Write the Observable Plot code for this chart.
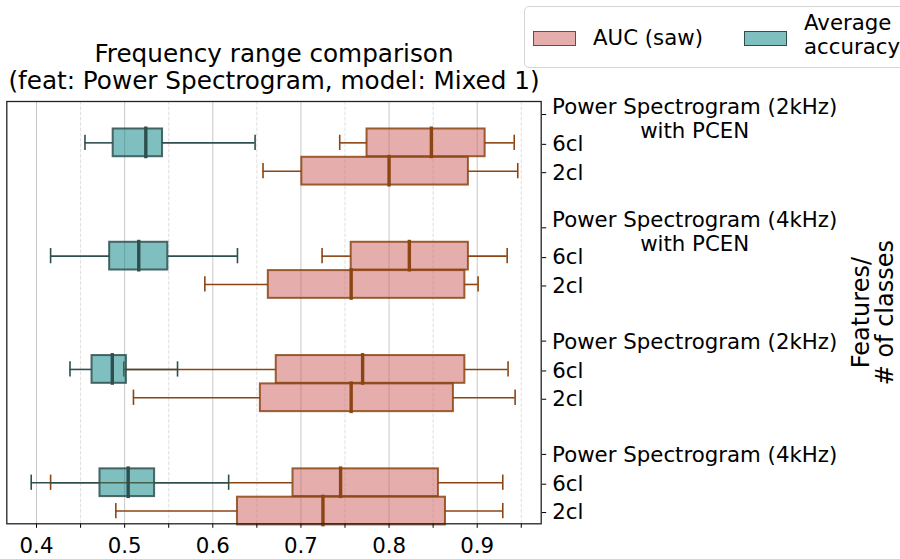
<!DOCTYPE html>
<html><head><meta charset="utf-8">
<script src="https://cdn.jsdelivr.net/npm/d3@7"></script>
<script src="https://cdn.jsdelivr.net/npm/@observablehq/plot@0.6"></script>
<style>
body{margin:0;background:#fff;overflow:hidden;font-family:"DejaVu Sans",sans-serif;}
#wrap{position:relative;width:900px;height:559px;overflow:hidden;}
#legend{position:absolute;left:524px;top:6px;width:400px;height:62px;border:1.3px solid #d6d6d6;border-radius:5px;background:#fff;box-sizing:border-box;font-size:21.3px;color:#000;}
.patch{position:absolute;width:43px;height:15px;box-sizing:border-box;border:1.6px solid;}
.lab{position:absolute;white-space:pre;}
</style></head><body>
<div id="wrap"><div id="chart"></div><div id="legend"></div></div>
<script>
// ---- data ----
const titleLines = ["Frequency range comparison", "(feat: Power Spectrogram, model: Mixed 1)"];
const groups = [
  "Power Spectrogram (2kHz)\nwith PCEN",
  "Power Spectrogram (4kHz)\nwith PCEN",
  "Power Spectrogram (2kHz)",
  "Power Spectrogram (4kHz)"
];
const classes = ["6cl", "2cl"];
const seriesNames = ["AUC (saw)", "Average\naccuracy"];
const yAxisLabel = "Features/\n# of classes";
// [lower whisker, Q1, median, Q3, upper whisker]
const auc6 = [
  [0.744, 0.775, 0.848, 0.909, 0.942],
  [0.724, 0.757, 0.823, 0.890, 0.934],
  [0.499, 0.672, 0.770, 0.886, 0.935],
  [0.416, 0.691, 0.745, 0.856, 0.929]
];
const auc2 = [
  [0.657, 0.701, 0.800, 0.890, 0.946],
  [0.591, 0.663, 0.757, 0.886, 0.901],
  [0.510, 0.654, 0.757, 0.873, 0.943],
  [0.490, 0.628, 0.725, 0.864, 0.929]
];
const acc = [
  [0.455, 0.487, 0.524, 0.543, 0.648],
  [0.416, 0.483, 0.516, 0.549, 0.628],
  [0.438, 0.463, 0.486, 0.502, 0.560],
  [0.394, 0.472, 0.504, 0.534, 0.618]
];
const majorTicks = [0.4, 0.5, 0.6, 0.7, 0.8, 0.9];
const minorTicks = [0.45, 0.55, 0.65, 0.75, 0.85, 0.95];

// ---- derived table ----
const aucRows = [], accRows = [], classTicks = [], groupRows = [];
groups.forEach((g, i) => {
  groupRows.push({pos: i * 4, text: g});
  classes.forEach((c, j) => classTicks.push({pos: i * 4 + 1 + j, text: c}));
  aucRows.push({pos: i * 4 + 1, s: auc6[i]});
  aucRows.push({pos: i * 4 + 2, s: auc2[i]});
  accRows.push({pos: i * 4 + 1, s: acc[i]});
});
const labelOf = new Map(classTicks.map(d => [d.pos, d.text]));

function boxMarks(rows, fill, stroke) {
  return [
    Plot.rect(rows, {x1: d => d.s[1], x2: d => d.s[3], y1: d => d.pos - 0.49, y2: d => d.pos + 0.49,
      fill, fillOpacity: 0.5, stroke, strokeOpacity: 0.85, strokeWidth: 2}),
    Plot.ruleY(rows, {y: "pos", x1: d => d.s[0], x2: d => d.s[1], stroke, strokeWidth: 1.6}),
    Plot.ruleY(rows, {y: "pos", x1: d => d.s[3], x2: d => d.s[4], stroke, strokeWidth: 1.6}),
    Plot.ruleX(rows, {x: d => d.s[0], y1: d => d.pos - 0.27, y2: d => d.pos + 0.27, stroke, strokeWidth: 1.6}),
    Plot.ruleX(rows, {x: d => d.s[4], y1: d => d.pos - 0.27, y2: d => d.pos + 0.27, stroke, strokeWidth: 1.6}),
    Plot.ruleX(rows, {x: d => d.s[2], y1: d => d.pos - 0.56, y2: d => d.pos + 0.56, stroke, strokeWidth: 3.4})
  ];
}

const chart = Plot.plot({
  width: 900, height: 559,
  marginLeft: 6.3, marginRight: 359.3, marginTop: 101, marginBottom: 35.7,
  style: {fontFamily: "DejaVu Sans", fontSize: "21.3px", color: "#000", background: "transparent", overflow: "visible"},
  x: {domain: [0.3663, 0.9726]},
  y: {domain: [14.45, -0.46]},
  marks: [
    Plot.ruleX(minorTicks, {stroke: "#b0b0b0", strokeOpacity: 0.4, strokeDasharray: "3.7,1.6", strokeWidth: 1}),
    Plot.ruleX(majorTicks, {stroke: "#b0b0b0", strokeOpacity: 0.7, strokeWidth: 1}),
    ...boxMarks(aucRows, "indianred", "saddlebrown"),
    ...boxMarks(accRows, "teal", "darkslategray"),
    Plot.axisX({ticks: majorTicks, tickFormat: d => String(d), tickSize: 4.5, tickPadding: 10, label: null}),
    Plot.axisX({ticks: minorTicks, tickFormat: () => "", tickSize: 4.5, label: null}),
    Plot.axisY({anchor: "right", ticks: classTicks.map(d => d.pos), tickFormat: d => labelOf.get(d), tickSize: 4.5, tickPadding: 6.5, dy: 1.5, label: null}),
    Plot.axisY({anchor: "right", ticks: groupRows.map(d => d.pos), tickFormat: () => "", tickSize: 4.5, label: null}),
    Plot.text(groupRows.filter(d => d.text.includes("\n")), {y: "pos", text: "text", frameAnchor: "right", dx: 153.5, dy: 3.5, textAnchor: "middle", lineAnchor: "middle", lineHeight: 1.12}),
    Plot.text(groupRows.filter(d => !d.text.includes("\n")), {y: "pos", text: "text", frameAnchor: "right", dx: 153.5, dy: 1, textAnchor: "middle", lineAnchor: "middle"}),
    Plot.text([titleLines.join("\n")], {frameAnchor: "top", dy: -12.5, lineAnchor: "bottom", lineHeight: 1.1, fontSize: 24.7, textAnchor: "middle"}),
    Plot.text([yAxisLabel], {frameAnchor: "right", dx: 332.5, rotate: -90, textAnchor: "middle", lineAnchor: "middle", lineHeight: 1.0, fontSize: 24}),
    Plot.frame({stroke: "#222", strokeWidth: 1.3})
  ]
});
document.getElementById("chart").appendChild(chart);

// ---- legend ----
const legend = document.getElementById("legend");
const legendItems = [
  {name: seriesNames[0], fill: "rgba(205,92,92,0.5)", stroke: "saddlebrown", px: 8, tx: 68, ty: 17, lh: 28},
  {name: seriesNames[1], fill: "rgba(0,128,128,0.5)", stroke: "darkslategray", px: 218.5, tx: 279, ty: 4, lh: 24}
];
legendItems.forEach(it => {
  const p = document.createElement("div");
  p.className = "patch";
  p.style.cssText = `left:${it.px}px;top:24px;background:${it.fill};border-color:${it.stroke};`;
  legend.appendChild(p);
  const t = document.createElement("div");
  t.className = "lab";
  t.style.cssText = `left:${it.tx}px;top:${it.ty}px;line-height:${it.lh}px;`;
  t.textContent = it.name;
  legend.appendChild(t);
});
</script>
</body></html>
